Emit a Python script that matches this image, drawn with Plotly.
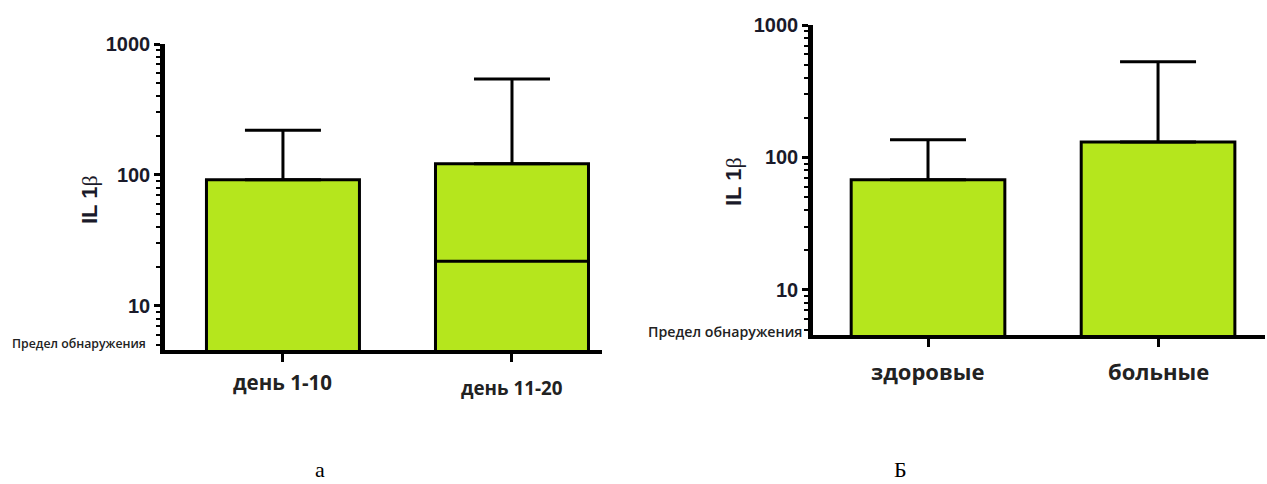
import plotly.graph_objects as go

# ---- data ----
left_categories = ["день 1-10", "день 11-20"]
left_values = [92, 122]
left_err_top = [220, 540]
left_inner = [None, 22]          # internal line in second bar

right_categories = ["здоровые", "больные"]
right_values = [68, 131]
right_err_top = [136, 528]

y_tick_vals = [10, 100, 1000]
y_tick_text = ["10", "100", "1000"]
minor_vals = [m * d for d in (1, 10, 100) for m in range(2, 10)]

panel_labels = ["а", "Б"]
detection_label = "Предел обнаружения"
y_title = "<b>IL 1</b><span style='font-family:Liberation Serif'>β</span>"

FILL = "#b5e61d"
W = 1267
H = 484


def err_plus(vals, tops):
    return [t - v for v, t in zip(vals, tops)]


fig = go.Figure()

bar_w = 0.668
fig.add_trace(go.Bar(
    x=left_categories, y=left_values, width=bar_w,
    marker=dict(color=FILL, line=dict(color="black", width=3)),
    error_y=dict(type="data", symmetric=False, array=err_plus(left_values, left_err_top),
                 arrayminus=[0, 0], color="black", thickness=3, width=38),
    xaxis="x", yaxis="y", showlegend=False))
fig.add_trace(go.Bar(
    x=left_categories, y=left_inner, width=bar_w,
    marker=dict(color=FILL, line=dict(color="black", width=3)),
    xaxis="x", yaxis="y", showlegend=False))
fig.add_trace(go.Bar(
    x=right_categories, y=right_values, width=bar_w,
    marker=dict(color=FILL, line=dict(color="black", width=3)),
    error_y=dict(type="data", symmetric=False, array=err_plus(right_values, right_err_top),
                 arrayminus=[0, 0], color="black", thickness=3, width=38),
    xaxis="x2", yaxis="y2", showlegend=False))

# domains in pixels
L_x0, L_x1, L_ytop, L_ybot = 165, 602, 44, 350
R_x0, R_x1, R_ytop, R_ybot = 813, 1265, 25, 335

yaxis_common = dict(
    type="log", tickvals=y_tick_vals, ticktext=y_tick_text, automargin=False,
    ticks="outside", ticklen=6, tickwidth=3, tickcolor="black",
    showline=True, linewidth=4.5, linecolor="black",
    showgrid=False, zeroline=False,
    tickfont=dict(family="Liberation Sans", size=20, color="#1a1a2a", weight=700),
    minor=dict(tickvals=minor_vals, ticks="outside", ticklen=4, tickwidth=2, tickcolor="black",
               showgrid=False),
)
xaxis_common = dict(
    type="category", ticks="outside", ticklen=8, tickwidth=3, tickcolor="black",
    showline=True, linewidth=4, linecolor="black", showgrid=False, zeroline=False,
    showticklabels=False, automargin=False,
)

fig.update_layout(
    width=W, height=H, margin=dict(l=0, r=0, t=0, b=0, pad=0),
    plot_bgcolor="white", paper_bgcolor="white", barmode="overlay",
    xaxis=dict(xaxis_common, domain=[L_x0 / W, L_x1 / W], anchor="y", range=[-0.515, 1.393]),
    yaxis=dict(yaxis_common, domain=[1 - L_ybot / H, 1 - L_ytop / H], anchor="x",
               range=[0.664, 3]),
    xaxis2=dict(xaxis_common, domain=[R_x0 / W, R_x1 / W], anchor="y2", range=[-0.5, 1.465]),
    yaxis2=dict(yaxis_common, domain=[1 - R_ybot / H, 1 - R_ytop / H], anchor="x2",
                range=[0.66, 3]),
)


def txt(x, y, text, size, family="Open Sans", color="#222", xanchor="center", angle=0,
        xref="paper", weight=None, yanchor="middle"):
    f = dict(family=family, size=size, color=color)
    if weight:
        f["weight"] = weight
    return dict(x=x if xref != "paper" else x / W, xref=xref, y=1 - y / H, yref="paper",
                text=text, showarrow=False, xanchor=xanchor, yanchor=yanchor,
                textangle=angle, font=f)


ann = []
# x category labels
ann.append(txt(left_categories[0], 382, f"<b>{left_categories[0]}</b>", 20.5, xref="x"))
ann.append(txt(left_categories[1], 388, f"<b>{left_categories[1]}</b>", 18.8, xref="x"))
for c in right_categories:
    ann.append(txt(c, 371, f"<b>{c}</b>", 22, xref="x2"))
# y titles
ann.append(txt(90, 200, y_title, 22, family="Liberation Sans", color="#1a1a2a", angle=-90))
ann.append(txt(734, 182, y_title, 22, family="Liberation Sans", color="#1a1a2a", angle=-90))
# detection limit labels
ann.append(txt(148, 343, detection_label, 12.3, xanchor="right", weight=600))
ann.append(txt(804, 331, detection_label, 14.2, xanchor="right", weight=600))
# panel letters
ann.append(txt(320, 484, panel_labels[0], 22, family="Liberation Serif", color="black",
               yanchor="bottom"))
ann.append(txt(900, 484, panel_labels[1], 22, family="Liberation Serif", color="black",
               yanchor="bottom"))
fig.update_layout(annotations=ann)

fig.write_html("out.html")
